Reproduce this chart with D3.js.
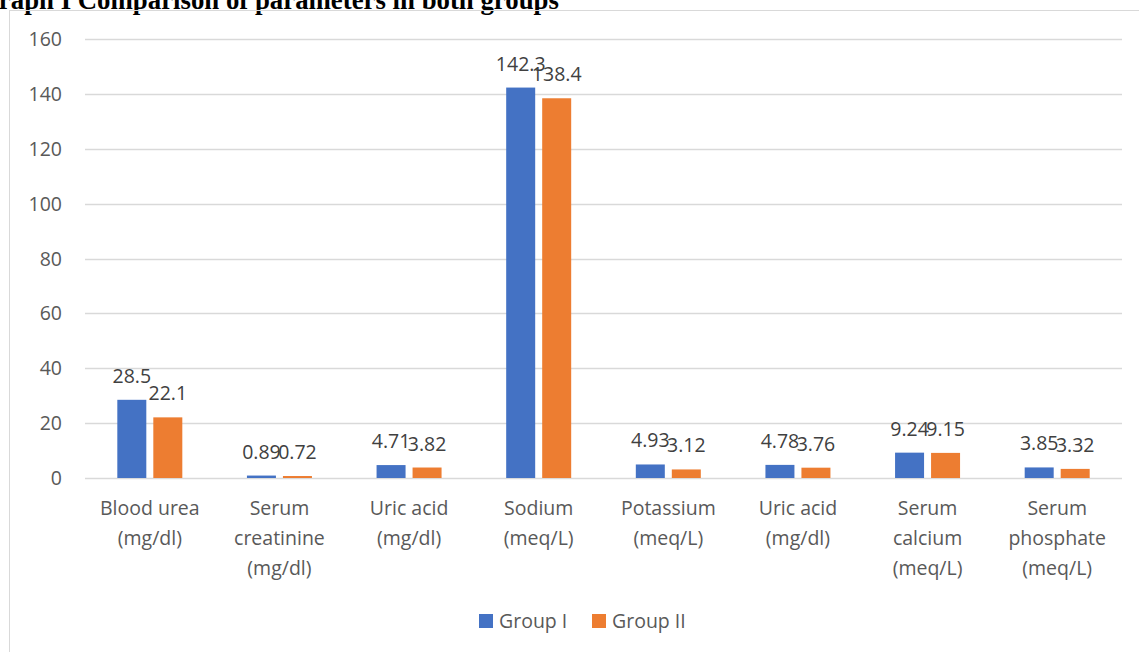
<!DOCTYPE html>
<html>
<head>
<meta charset="utf-8">
<script src="https://cdn.jsdelivr.net/npm/d3@7"></script>
<style>
  body { margin: 0; background: #fff; }
  svg { display: block; }
</style>
</head>
<body>
<div class="vis-bars"></div>
<script>
// data
const categories = [
  ['Blood urea', '(mg/dl)'],
  ['Serum', 'creatinine', '(mg/dl)'],
  ['Uric acid', '(mg/dl)'],
  ['Sodium', '(meq/L)'],
  ['Potassium', '(meq/L)'],
  ['Uric acid', '(mg/dl)'],
  ['Serum', 'calcium', '(meq/L)'],
  ['Serum', 'phosphate', '(meq/L)']
];
const groupI = [28.5, 0.89, 4.71, 142.3, 4.93, 4.78, 9.24, 3.85];
const groupII = [22.1, 0.72, 3.82, 138.4, 3.12, 3.76, 9.15, 3.32];
const seriesNames = ['Group I', 'Group II'];
const yTicks = [0, 20, 40, 60, 80, 100, 120, 140, 160];
const colors = ['#4472c4', '#ed7d31'];

const width = 1139, height = 652;
const font = "'Open Sans', sans-serif";
const fs = 19.5;
const svg = d3.select('.vis-bars').append('svg')
  .attr('width', width).attr('height', height);

// title (clipped at top-left like the source)
svg.append('text')
  .attr('x', -22).attr('y', 9)
  .attr('font-family', "'Liberation Serif', serif")
  .attr('font-weight', 'bold')
  .attr('font-size', 26.8)
  .text('Graph I Comparison of parameters in both groups');

// chart frame
svg.append('rect')
  .attr('x', 9.5).attr('y', 10.5)
  .attr('width', 1140).attr('height', 660)
  .attr('fill', 'none').attr('stroke', '#d9d9d9');

const plot = { left: 85, right: 1122, top: 39, bottom: 478 };

const x = d3.scaleBand()
  .domain(d3.range(categories.length))
  .range([plot.left, plot.right]);

const y = d3.scaleLinear()
  .domain([0, 160])
  .range([plot.bottom, plot.top]);

// gridlines
svg.append('g')
  .selectAll('line')
  .data(yTicks)
  .enter()
  .append('line')
  .attr('x1', plot.left).attr('x2', plot.right)
  .attr('y1', d => Math.round(y(d)) + 0.5)
  .attr('y2', d => Math.round(y(d)) + 0.5)
  .attr('stroke', '#d9d9d9').attr('stroke-width', 1.3);

// y axis labels
svg.append('g')
  .selectAll('text')
  .data(yTicks)
  .enter()
  .append('text')
  .attr('x', 62).attr('y', d => y(d) + 7)
  .attr('text-anchor', 'end')
  .attr('font-family', font).attr('font-size', fs)
  .attr('fill', '#595959')
  .text(d => d);

// bars
const barW = 29, gap = 7;
const rows = categories.map((c, i) => [groupI[i], groupII[i]]);
const cat = svg.append('g')
  .selectAll('g')
  .data(rows)
  .enter()
  .append('g')
  .attr('transform', (d, i) => 'translate(' + (x(i) + x.bandwidth() / 2) + ',0)');

cat.selectAll('rect')
  .data(d => d)
  .enter()
  .append('rect')
  .attr('x', (d, j) => j === 0 ? -gap / 2 - barW : gap / 2)
  .attr('y', d => y(d))
  .attr('width', barW)
  .attr('height', d => y(0) - y(d))
  .attr('fill', (d, j) => colors[j]);

cat.selectAll('text.val')
  .data(d => d)
  .enter()
  .append('text')
  .attr('class', 'val')
  .attr('x', (d, j) => j === 0 ? -gap / 2 - barW / 2 : gap / 2 + barW / 2)
  .attr('y', d => y(d) - 17)
  .attr('text-anchor', 'middle')
  .attr('font-family', font).attr('font-size', fs)
  .attr('fill', '#404040')
  .text(d => d);

// category labels
cat.append('text')
  .attr('text-anchor', 'middle')
  .attr('font-family', font).attr('font-size', fs)
  .attr('fill', '#595959')
  .selectAll('tspan')
  .data((d, i) => categories[i])
  .enter()
  .append('tspan')
  .attr('x', 0)
  .attr('y', (d, k) => 515 + k * 30)
  .text(d => d);

// legend
const legendX = [479, 592];
const lg = svg.append('g')
  .selectAll('g')
  .data(seriesNames)
  .enter()
  .append('g')
  .attr('transform', (d, i) => 'translate(' + legendX[i] + ',614)');
lg.append('rect')
  .attr('width', 14).attr('height', 14)
  .attr('fill', (d, i) => colors[i]);
lg.append('text')
  .attr('x', 20).attr('y', 14)
  .attr('font-family', font).attr('font-size', fs)
  .attr('fill', '#595959')
  .text(d => d);
</script>
</body>
</html>
